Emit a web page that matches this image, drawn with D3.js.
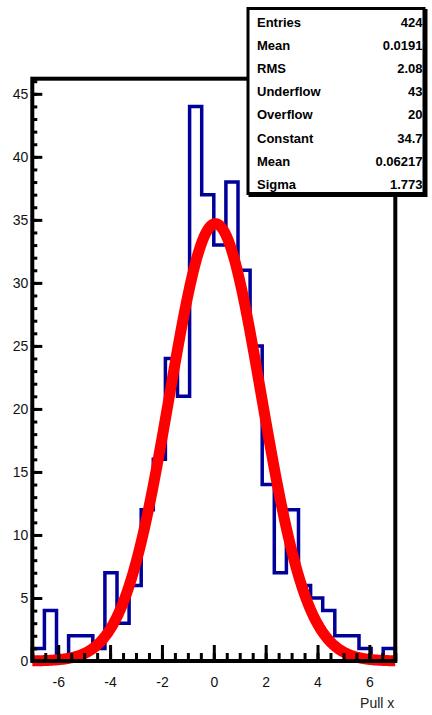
<!DOCTYPE html>
<html>
<head>
<meta charset="utf-8">
<script src="https://cdn.jsdelivr.net/npm/d3@7"></script>
<style>
  html, body { margin: 0; padding: 0; background: #fff; }
  svg { display: block; font-family: "Liberation Sans", Arial, Helvetica, sans-serif; }
</style>
</head>
<body>
<svg id="chart" width="432" height="715"></svg>
<script>
// Histogram of the pull in x: 30 equal bins between -7 and 7
const histRange = [-7, 7];
const binCounts = [1, 4, 0, 2, 2, 1, 7, 3, 6, 12, 16, 24, 21, 44, 37, 33, 38, 31, 25, 14, 7, 12, 6, 5, 4, 2, 2, 1, 0, 1];

// Gaussian fit result
const fitConstant = 34.7;
const fitMean = 0.06217;
const fitSigma = 1.773;

// Statistics box
const statLabels = ["Entries", "Mean", "RMS", "Underflow", "Overflow", "Constant", "Mean", "Sigma"];
const statValues = ["424", "0.0191", "2.08", "43", "20", "34.7", "0.06217", "1.773"];

// Axis ticks
const xMajorTicks = [-6, -4, -2, 0, 2, 4, 6];
const yMajorTicks = [0, 5, 10, 15, 20, 25, 30, 35, 40, 45];
const xTitle = "Pull x";

const svg = d3.select("#chart");
const frame = { left: 32.3, right: 395.3, top: 78.7, bottom: 661 };

const yMax = d3.max(binCounts) * 1.05;
const x = d3.scaleLinear().domain(histRange).range([frame.left, frame.right]);
const y = d3.scaleLinear().domain([0, yMax]).range([frame.bottom, frame.top]);

const nBins = binCounts.length;
const binWidth = (histRange[1] - histRange[0]) / nBins;
const edges = d3.range(nBins + 1).map(i => histRange[0] + i * binWidth);

// Step outline of the histogram
const steps = [[edges[0], 0]];
binCounts.forEach((c, i) => {
  steps.push([edges[i], c]);
  steps.push([edges[i + 1], c]);
});
steps.push([edges[nBins], 0]);

svg.append("path")
  .attr("d", d3.line().x(d => x(d[0])).y(d => y(d[1]))(steps))
  .attr("fill", "none")
  .attr("stroke", "#00009a")
  .attr("stroke-width", 3.5)
  .attr("stroke-linejoin", "miter");

// Fitted Gaussian
const gauss = v => fitConstant * Math.exp(-0.5 * Math.pow((v - fitMean) / fitSigma, 2));
const fitPts = d3.range(0, 401).map(i => {
  const v = histRange[0] + (histRange[1] - histRange[0]) * i / 400;
  return [v, gauss(v)];
});
svg.append("path")
  .attr("d", d3.line().x(d => x(d[0])).y(d => y(d[1]))(fitPts))
  .attr("fill", "none")
  .attr("stroke", "#ff0000")
  .attr("stroke-width", 11)
  .attr("stroke-linejoin", "round");

// Axes: ticks point into the frame
const tickW = 3;
const xMinor = svg.append("g")
  .attr("transform", `translate(0,${frame.bottom})`)
  .call(d3.axisBottom(x).tickValues(d3.range(-7, 7.01, 0.5)).tickSize(-8).tickFormat(""));
const xMajor = svg.append("g")
  .attr("transform", `translate(0,${frame.bottom})`)
  .call(d3.axisBottom(x).tickValues(xMajorTicks).tickSize(-16).tickPadding(16).tickFormat(d3.format("d")));
const yMinor = svg.append("g")
  .attr("transform", `translate(${frame.left},0)`)
  .call(d3.axisLeft(y).tickValues(d3.range(0, 47, 1)).tickSize(-5).tickFormat(""));
const yMajor = svg.append("g")
  .attr("transform", `translate(${frame.left},0)`)
  .call(d3.axisLeft(y).tickValues(yMajorTicks).tickSize(-10).tickPadding(4).tickFormat(d3.format("d")));

[xMinor, xMajor, yMinor, yMajor].forEach(g => {
  g.select(".domain").remove();
  g.selectAll(".tick line").attr("stroke", "#000").attr("stroke-width", tickW);
  g.selectAll(".tick text")
    .attr("fill", "#111")
    .style("font-size", "14px")
    .style("font-family", "'Liberation Sans', Arial, Helvetica, sans-serif");
});
xMajor.selectAll(".tick text").text(d => d < 0 ? "-" + Math.abs(d) : d);

// Frame
svg.append("rect")
  .attr("x", frame.left).attr("y", frame.top)
  .attr("width", frame.right - frame.left).attr("height", frame.bottom - frame.top)
  .attr("fill", "none").attr("stroke", "#000").attr("stroke-width", 4);

// Axis title
svg.append("text")
  .attr("x", frame.right - 1).attr("y", 708)
  .attr("text-anchor", "end")
  .attr("fill", "#222")
  .style("font-size", "14px")
  .text(xTitle);

// Statistics box with drop shadow
const box = { x: 248, y: 8.5, w: 176, h: 185 };
svg.append("rect")
  .attr("x", box.x + 2).attr("y", box.y + 2).attr("width", box.w).attr("height", box.h)
  .attr("fill", "#000").attr("stroke", "#000").attr("stroke-width", 3);
svg.append("rect")
  .attr("x", box.x).attr("y", box.y).attr("width", box.w).attr("height", box.h)
  .attr("fill", "#fff").attr("stroke", "#000").attr("stroke-width", 3);

const rowY = d3.scaleLinear().domain([0, statLabels.length - 1]).range([26.5, 189]);
const rows = svg.append("g").style("font-size", "13px").style("font-weight", "bold").attr("fill", "#000");
statLabels.forEach((lab, i) => {
  rows.append("text").attr("x", 257).attr("y", rowY(i)).text(lab);
  rows.append("text").attr("x", 422.5).attr("y", rowY(i)).attr("text-anchor", "end").text(statValues[i]);
});
</script>
</body>
</html>
